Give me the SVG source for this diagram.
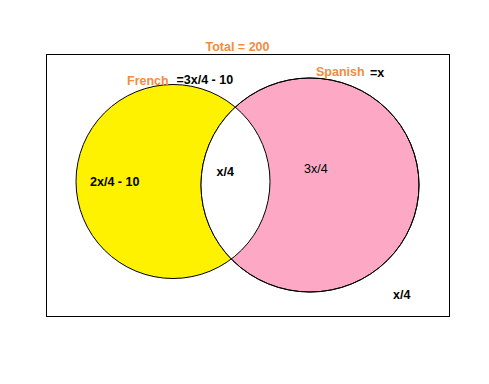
<svg xmlns="http://www.w3.org/2000/svg" width="489" height="384" viewBox="0 0 489 384">
<style>
.o{fill:#F68B3C;font-family:"Liberation Sans",Arial,sans-serif;font-weight:bold;font-size:12.5px}
.k{fill:#000;font-family:"Liberation Sans",Arial,sans-serif;font-weight:bold;font-size:12.5px}
.n{font-weight:normal}
.s{stroke:#000;stroke-width:1}
</style>
<defs>
<clipPath id="cp"><ellipse cx="310" cy="185" rx="109" ry="107"/></clipPath>
</defs>
<rect width="489" height="384" fill="#fff"/>
<rect x="46.5" y="54.5" width="403" height="262" fill="none" class="s"/>
<g id="french">
<circle cx="173" cy="181.5" r="97" fill="#FFF200" class="s"/>
</g>
<g id="spanish">
<ellipse cx="310" cy="185" rx="109" ry="107" fill="#FDA9C6" class="s"/>
</g>
<g id="both">
<circle cx="173" cy="181.5" r="97" fill="#fff" class="s" clip-path="url(#cp)"/>
<ellipse cx="310" cy="185" rx="109" ry="107" fill="none" class="s"/>
</g>
<g id="labels">
<text x="237.5" y="51" class="o" text-anchor="middle">Total = 200</text>
<text x="127" y="85" class="o">French</text>
<text x="176.5" y="84" class="k">=3x/4 - 10</text>
<text x="316" y="76" class="o">Spanish</text>
<text x="370" y="77" class="k">=x</text>
<text x="90" y="186" class="k">2x/4 - 10</text>
<text x="216.5" y="176" class="k">x/4</text>
<text x="304" y="173" class="k n">3x/4</text>
<text x="393" y="299" class="k">x/4</text>
</g>
</svg>
